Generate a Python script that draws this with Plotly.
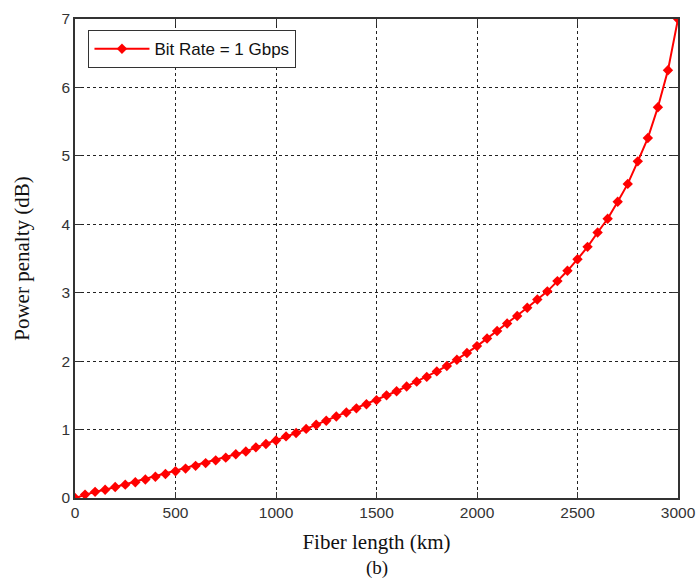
import plotly.graph_objects as go

fiber_length_km = [0, 50, 100, 150, 200, 250, 300, 350, 400, 450,
                   500, 550, 600, 650, 700, 750, 800, 850, 900, 950,
                   1000, 1050, 1100, 1150, 1200, 1250, 1300, 1350, 1400, 1450,
                   1500, 1550, 1600, 1650, 1700, 1750, 1800, 1850, 1900, 1950,
                   2000, 2050, 2100, 2150, 2200, 2250, 2300, 2350, 2400, 2450,
                   2500, 2550, 2600, 2650, 2700, 2750, 2800, 2850, 2900, 2950, 3000]
power_penalty_db = [0.00, 0.05, 0.09, 0.12, 0.16, 0.195, 0.23, 0.27, 0.31, 0.35,
                    0.39, 0.43, 0.47, 0.51, 0.55, 0.59, 0.64, 0.68, 0.74, 0.79,
                    0.84, 0.90, 0.95, 1.01, 1.07, 1.13, 1.19, 1.25, 1.31, 1.37,
                    1.43, 1.50, 1.56, 1.63, 1.70, 1.77, 1.85, 1.93, 2.02, 2.12,
                    2.22, 2.33, 2.44, 2.55, 2.66, 2.78, 2.90, 3.02, 3.17, 3.32,
                    3.49, 3.67, 3.88, 4.08, 4.33, 4.59, 4.92, 5.26, 5.71, 6.25, 7.00]
x_ticks = [0, 500, 1000, 1500, 2000, 2500, 3000]
y_ticks = [0, 1, 2, 3, 4, 5, 6, 7]
series_name = "Bit Rate = 1 Gbps"

fig = go.Figure()
fig.add_trace(go.Scatter(
    x=fiber_length_km, y=power_penalty_db, mode="lines+markers", name=series_name,
    line=dict(color="#ff0000", width=2),
    marker=dict(symbol="diamond", size=8, color="#ff0000"),
))

axis_common = dict(
    showline=True, linecolor="#333333", linewidth=1.5, mirror="ticks",
    ticks="inside", ticklen=6, tickcolor="#333333",
    showgrid=True, gridcolor="#222222", griddash="3px,3px", gridwidth=1,
    zeroline=False, automargin=False, ticklabeloverflow="allow",
    tickfont=dict(family="Liberation Sans, Arial", size=15.5, color="#333333"),
    title_font=dict(family="Liberation Serif, Times New Roman", size=21, color="#111111"),
)

fig.update_layout(
    width=698, height=581,
    margin=dict(l=75, r=20, t=19, b=83),
    paper_bgcolor="white", plot_bgcolor="white",
    xaxis=dict(range=[0, 3000], tickvals=x_ticks, title_text="Fiber length (km)",
               title_standoff=14, **axis_common),
    yaxis=dict(range=[0, 7], tickvals=y_ticks, title_text="Power penalty (dB)",
               title_standoff=26, **axis_common),
    showlegend=True,
    legend=dict(x=0.022, y=0.977, xanchor="left", yanchor="top",
                bgcolor="white", bordercolor="#333333", borderwidth=1.2,
                font=dict(family="Liberation Sans, Arial", size=17, color="#111111"),
                itemwidth=55),
    annotations=[dict(text="(b)", x=0.5, y=-0.118, xref="paper", yref="paper",
                      showarrow=False, yanchor="top",
                      font=dict(family="Liberation Serif, Times New Roman", size=19, color="#111111"))],
)

fig.write_html("out.html")
